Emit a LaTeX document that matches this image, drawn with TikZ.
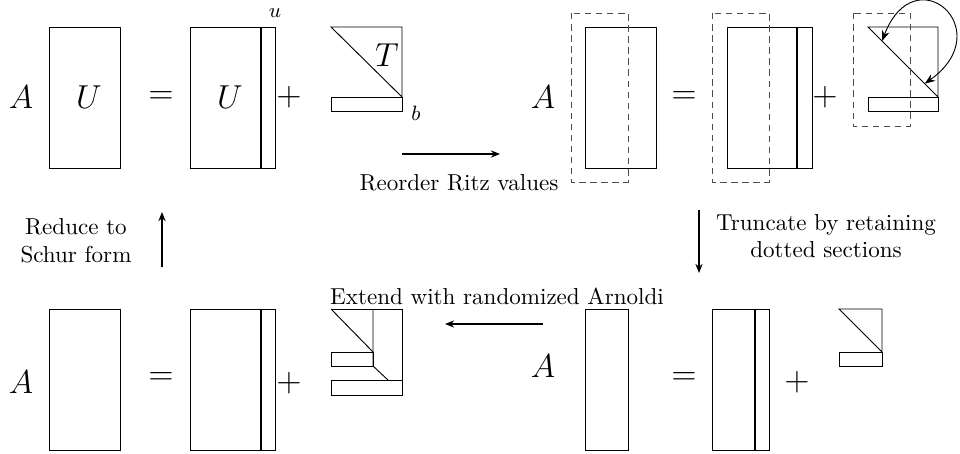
\documentclass[tikz,border=0pt]{standalone}
\usepackage{amsmath}
\usetikzlibrary{arrows.meta,calc}

\begin{document}
\begin{tikzpicture}[
		x=0.1524mm, y=-0.1524mm,
		mat/.style={draw, line width=0.4pt},
		split/.style={line width=0.8pt},
		keep/.style={draw, black!70, dash pattern=on 2.8pt off 2pt},
		arr/.style={-{Stealth[length=1.4mm, width=1.1mm]}, line width=0.5pt},
		swap/.style={{Stealth[length=1.6mm, width=1.2mm]}-{Stealth[length=1.6mm, width=1.2mm]}, line width=0.4pt},
		sym/.style={font=\Large, inner sep=0pt},
		tag/.style={font=\small, inner sep=0pt},
		lbl/.style={align=center, inner sep=0pt}
		]
		\useasboundingbox (0,0) rectangle (960,453);
		% top left: A U = U u + T b
		\node[sym] (A1) at (21,97) {$A$};
		\draw[mat] (49,27) rectangle (120,168);
		\node[sym] (U1) at (89,97) {$U$};
		\node[sym] (eq1) at (161,97) {$=$};
		\draw[mat] (190,27) rectangle (275,168);
		\draw[split] (261,27) -- (261,168);
		\node[sym] (U2) at (230,97) {$U$};
		\node[tag] (u) at (275,13) {$u$};
		\node[sym] (plus1) at (289,97) {$+$};
		\draw[mat] (331,27) -- (402,27) -- (402,97) -- cycle;
		\draw[mat] (331,97) rectangle (402,111);
		\node[sym] (T) at (387,55) {$T$};
		\node[tag] (b) at (416,113) {$b$};
		% top right: reordered, dashed parts kept
		\node[sym] (A2) at (543,97) {$A$};
		\draw[mat] (585,27) rectangle (656,168);
		\node[sym] (eq2) at (684,97) {$=$};
		\draw[mat] (727,27) rectangle (812,168);
		\draw[split] (797,27) -- (797,168);
		\node[sym] (plus2) at (825,97) {$+$};
		\draw[mat] (868,27) -- (938,27) -- (938,97) -- cycle;
		\draw[mat] (868,97) rectangle (938,111);
		\draw[keep] (571,13) rectangle (628,182);
		\draw[keep] (712,13) rectangle (769,182);
		\draw[keep] (853,13) rectangle (910,126);
		\coordinate (s1) at ($(868,27)!0.2!(938,97)$);
		\coordinate (s2) at ($(868,27)!0.81!(938,97)$);
		\draw[swap] (s1) .. controls (915,-45) and (1000,30) .. (s2);
		% bottom right: truncated
		\node[sym] (A4) at (543,366) {$A$};
		\draw[mat] (585,309) rectangle (628,450);
		\node[sym] (eq4) at (684,378) {$=$};
		\draw[mat] (712,309) rectangle (769,450);
		\draw[split] (755,309) -- (755,450);
		\node[sym] (plus4) at (797,382) {$+$};
		\draw[mat] (839,309) -- (882,309) -- (882,352) -- cycle;
		\draw[mat] (839,352) rectangle (882,366);
		% bottom left: extended
		\node[sym] (A3) at (21,382) {$A$};
		\draw[mat] (49,309) rectangle (120,450);
		\node[sym] (eq3) at (161,378) {$=$};
		\draw[mat] (190,309) rectangle (275,450);
		\draw[split] (261,309) -- (261,450);
		\node[sym] (plus3) at (289,383) {$+$};
		\draw[mat] (331,309) -- (402,309) -- (402,380);
		\draw[mat] (331,309) -- (373,352);
		\draw[mat] (373,309) -- (373,366) -- (388,380);
		\draw[mat] (331,352) rectangle (373,366);
		\draw[mat] (331,380) rectangle (402,395);
		% steps between panels
		\coordinate (reorder-in) at (402,154);
		\coordinate (reorder-out) at (500,154);
		\draw[arr] (reorder-in) -- (reorder-out);
		\node[lbl] (reorder) at (459,183) {Reorder Ritz values};
		\coordinate (trunc-in) at (699,210);
		\coordinate (trunc-out) at (699,273);
		\draw[arr] (trunc-in) -- (trunc-out);
		\node[lbl] (trunc) at (826,236) {Truncate by retaining\\ dotted sections};
		\coordinate (extend-in) at (543,324);
		\coordinate (extend-out) at (445,324);
		\draw[arr] (extend-in) -- (extend-out);
		\node[lbl] (extend) at (497,296) {Extend with randomized Arnoldi};
		\coordinate (schur-in) at (162,267);
		\coordinate (schur-out) at (162,212);
		\draw[arr] (schur-in) -- (schur-out);
		\node[lbl] (schur) at (76,241) {Reduce to\\ Schur form};
	\end{tikzpicture}
\end{document}
